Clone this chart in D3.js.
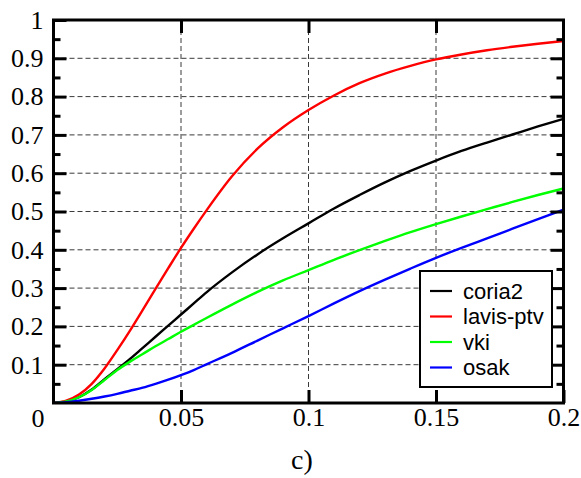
<!DOCTYPE html>
<html>
<head>
<meta charset="utf-8">
<script src="https://cdn.jsdelivr.net/npm/d3@7"></script>
<style>
  html, body { margin: 0; padding: 0; background: #fff; }
  svg { display: block; }
</style>
</head>
<body>
<div id="chart"></div>
<script>
// Sampled abscissa shared by all series
const xs = [0, 0.005, 0.01, 0.015, 0.02, 0.025, 0.03, 0.035, 0.04, 0.045, 0.05, 0.055, 0.06,
            0.07, 0.08, 0.09, 0.1, 0.11, 0.12, 0.13, 0.14, 0.15, 0.16, 0.17, 0.18, 0.19, 0.2];

const coria2   = [0, 0.004, 0.015, 0.035, 0.062, 0.088, 0.115, 0.144, 0.173, 0.202, 0.231, 0.26, 0.289,
                  0.341, 0.388, 0.43, 0.469, 0.508, 0.543, 0.576, 0.606, 0.633, 0.658, 0.68, 0.701, 0.722, 0.742];
const lavisPtv = [0, 0.006, 0.022, 0.05, 0.09, 0.138, 0.189, 0.243, 0.298, 0.352, 0.405, 0.455, 0.503,
                  0.592, 0.664, 0.72, 0.765, 0.803, 0.835, 0.86, 0.88, 0.897, 0.91, 0.921, 0.93, 0.938, 0.945];
const vki      = [0, 0.004, 0.015, 0.034, 0.06, 0.086, 0.108, 0.128, 0.148, 0.167, 0.186, 0.204, 0.222,
                  0.257, 0.29, 0.32, 0.347, 0.374, 0.399, 0.423, 0.446, 0.467, 0.487, 0.506, 0.525, 0.543, 0.56];
const osak     = [0, 0.002, 0.006, 0.011, 0.017, 0.024, 0.032, 0.04, 0.05, 0.061, 0.073, 0.086, 0.101,
                  0.131, 0.163, 0.195, 0.227, 0.26, 0.292, 0.322, 0.351, 0.379, 0.405, 0.43, 0.455, 0.48, 0.505];

const seriesNames  = ["coria2", "lavis-ptv", "vki", "osak"];
const seriesValues = [coria2, lavisPtv, vki, osak];
const seriesColors = ["#000000", "#ff0000", "#00ff00", "#0000ff"];

const xTicks      = [0.05, 0.1, 0.15, 0.2];
const xGridTicks  = [0.05, 0.1, 0.15];
const yTicks      = [0.1, 0.2, 0.3, 0.4, 0.5, 0.6, 0.7, 0.8, 0.9, 1];
const yGridTicks  = [0.1, 0.2, 0.3, 0.4, 0.5, 0.6, 0.7, 0.8, 0.9];
const yMinorTicks = [0.05, 0.15, 0.25, 0.35, 0.45, 0.55, 0.65, 0.75, 0.85, 0.95];
const panelLabel  = "c)";

const W = 581, H = 478;
const plot = { left: 53.5, right: 563.5, top: 20, bottom: 403 };

const svg = d3.select("#chart").append("svg")
  .attr("width", W).attr("height", H);

svg.append("rect").attr("width", W).attr("height", H).attr("fill", "#fff");

const x = d3.scaleLinear().domain([0, 0.2]).range([plot.left, plot.right]);
const y = d3.scaleLinear().domain([0, 1]).range([plot.bottom, plot.top]);

// dashed grid
const grid = svg.append("g").attr("stroke", "#3a3a3a").attr("stroke-width", 1)
  .attr("stroke-dasharray", "5,3").attr("fill", "none");
grid.selectAll("line.h").data(yGridTicks).join("line").attr("class", "h")
  .attr("x1", x(0)).attr("x2", x(0.2)).attr("y1", d => y(d)).attr("y2", d => y(d));
grid.selectAll("line.v").data(xGridTicks).join("line").attr("class", "v")
  .attr("y1", y(0)).attr("y2", y(1)).attr("x1", d => x(d)).attr("x2", d => x(d));

// curves
svg.append("clipPath").attr("id", "plot-clip").append("rect")
  .attr("x", plot.left).attr("y", plot.top)
  .attr("width", plot.right - plot.left).attr("height", plot.bottom - plot.top);

const line = d3.line()
  .x((d, i) => x(xs[i]))
  .y(d => y(d))
  .curve(d3.curveMonotoneX);

svg.append("g").attr("clip-path", "url(#plot-clip)")
  .selectAll("path").data(seriesValues).join("path")
  .attr("d", line)
  .attr("fill", "none")
  .attr("stroke", (d, i) => seriesColors[i])
  .attr("stroke-width", 2.4)
  .attr("stroke-linejoin", "round");

// axes with inward ticks
const fmt = d3.format("~g");
const serif = "'Liberation Serif', 'Times New Roman', Times, serif";
const tickFont = 26;

function styleAxis(g) {
  g.attr("font-family", serif).attr("font-size", tickFont);
  g.select(".domain").remove();
  g.selectAll(".tick line").attr("stroke", "#000").attr("stroke-width", 3);
  g.selectAll(".tick text").attr("fill", "#000")
    .attr("font-family", serif).attr("font-size", tickFont);
}

svg.append("g").attr("transform", `translate(${plot.left},0)`)
  .call(d3.axisLeft(y).tickValues(yTicks).tickSize(-13).tickPadding(10).tickFormat(fmt))
  .call(styleAxis);
svg.append("g").attr("transform", `translate(${plot.left},0)`)
  .call(d3.axisLeft(y).tickValues(yMinorTicks).tickSize(-7).tickFormat(""))
  .call(styleAxis);
svg.append("g").attr("transform", `translate(${plot.right},0)`)
  .call(d3.axisRight(y).tickValues(yGridTicks).tickSize(-13).tickFormat(""))
  .call(styleAxis);
svg.append("g").attr("transform", `translate(${plot.right},0)`)
  .call(d3.axisRight(y).tickValues(yMinorTicks).tickSize(-7).tickFormat(""))
  .call(styleAxis);

svg.append("g").attr("transform", `translate(0,${plot.bottom})`)
  .call(d3.axisBottom(x).tickValues(xTicks).tickSize(-13).tickPadding(5).tickFormat(fmt))
  .call(styleAxis);
svg.append("g").attr("transform", `translate(0,${plot.top})`)
  .call(d3.axisTop(x).tickValues(xGridTicks).tickSize(-13).tickFormat(""))
  .call(styleAxis);

// shared origin label
svg.append("text")
  .attr("x", x(0) - 15.5).attr("y", plot.bottom + 24)
  .attr("text-anchor", "middle")
  .attr("font-family", serif).attr("font-size", tickFont)
  .text(fmt(0));

// frame
svg.append("rect")
  .attr("x", plot.left).attr("y", plot.top)
  .attr("width", plot.right - plot.left).attr("height", plot.bottom - plot.top)
  .attr("fill", "none").attr("stroke", "#000").attr("stroke-width", 3);

// legend
const legend = svg.append("g").attr("transform", "translate(420,271)");
legend.append("rect").attr("width", 132).attr("height", 116)
  .attr("fill", "#fff").attr("stroke", "#000").attr("stroke-width", 2);
const rows = legend.selectAll("g.row").data(seriesNames).join("g").attr("class", "row")
  .attr("transform", (d, i) => `translate(0,${20 + i * 25.5})`);
rows.append("line").attr("x1", 10).attr("x2", 32).attr("y1", 0).attr("y2", 0)
  .attr("stroke", (d, i) => seriesColors[i]).attr("stroke-width", 2.2);
rows.append("text").attr("x", 43).attr("y", 7.5)
  .attr("font-family", "'Liberation Sans', Arial, sans-serif").attr("font-size", 22)
  .attr("fill", "#000")
  .text(d => d);

// panel label
svg.append("text")
  .attr("x", 302).attr("y", 469).attr("text-anchor", "middle")
  .attr("font-family", serif).attr("font-size", 28)
  .text(panelLabel);
</script>
</body>
</html>
